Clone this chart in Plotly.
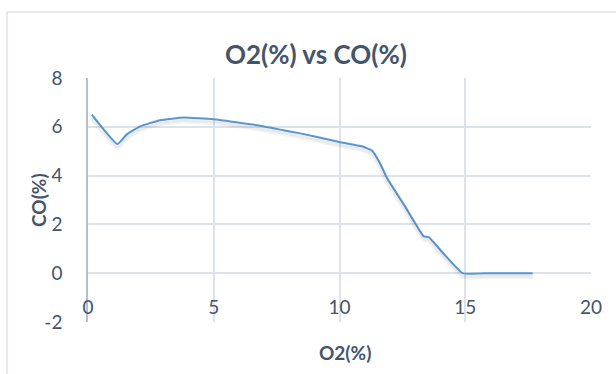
import plotly.graph_objects as go

# O2 / CO readings
o2_pct = [0.15, 1.17, 1.55, 2.07, 2.86, 3.8, 5.0, 6.8, 7.77, 8.4, 10.0, 10.9, 11.3, 11.6, 11.9, 12.6, 13.35, 13.55, 14.1, 14.9, 16.0, 17.68]
co_pct = [6.5, 5.29, 5.7, 6.02, 6.27, 6.38, 6.31, 6.05, 5.86, 5.74, 5.38, 5.2, 5.02, 4.53, 3.88, 2.75, 1.51, 1.48, 0.85, 0.0, 0.0, 0.0]

x_ticks = [0, 5, 10, 15, 20]
y_ticks = [-2, 0, 2, 4, 6, 8]
y_tick_text = ["-2", "0", "2", "4", "6", "8"]

TEXT = "#44546a"
GRID = "#dde3ea"
FONT = "Lato, 'Open Sans', sans-serif"

L, R, T, B = 88, 25, 78, 52
W, H = 616, 374
pw, ph = W - L - R, H - T - B
Y_RANGE = [-2, 8]
shadow_dy = 3 * (Y_RANGE[1] - Y_RANGE[0]) / ph  # soft drop shadow, 3px below

fig = go.Figure()
# drop shadow of the series, on an overlay axis nudged down a few pixels
fig.add_trace(go.Scatter(
    x=o2_pct, y=co_pct, mode="lines", yaxis="y2",
    line=dict(color="rgba(0,0,0,0.045)", width=6, shape="spline", smoothing=0.35),
    hoverinfo="skip", showlegend=False,
))
fig.add_trace(go.Scatter(
    x=o2_pct, y=co_pct, mode="lines", yaxis="y2",
    line=dict(color="rgba(0,0,0,0.04)", width=3, shape="spline", smoothing=0.35),
    hoverinfo="skip", showlegend=False,
))
fig.add_trace(go.Scatter(
    x=o2_pct, y=co_pct, mode="lines",
    line=dict(color="#5b9bd5", width=2, shape="spline", smoothing=0.35),
    hoverinfo="x+y", showlegend=False,
))

fig.update_layout(
    width=W, height=H,
    margin=dict(l=L, r=R, t=T, b=B),
    paper_bgcolor="white", plot_bgcolor="white",
    font=dict(family=FONT, color=TEXT, size=19),
    xaxis=dict(
        range=[0, 20], tickvals=x_ticks, showgrid=True, gridcolor=GRID, gridwidth=1.5,
        zeroline=False, showline=False, anchor="free", position=0.2,
        ticks="", ticklabelstandoff=21, tickfont=dict(size=19, color=TEXT),
    ),
    yaxis=dict(
        range=Y_RANGE, tickvals=y_ticks, ticktext=y_tick_text,
        showgrid=True, gridcolor=GRID, gridwidth=1.5,
        zeroline=False, showline=True, linecolor="#b4c0d2", linewidth=1.5,
        ticks="", ticklabelstandoff=20, tickfont=dict(size=19, color=TEXT),
    ),
    yaxis2=dict(
        range=[Y_RANGE[0] + shadow_dy, Y_RANGE[1] + shadow_dy], overlaying="y",
        visible=False, showgrid=False, zeroline=False,
    ),
    shapes=[
        # outer chart frame
        dict(type="line", xref="paper", yref="paper",
             x0=(7 - L) / pw, x1=(7 - L) / pw, y0=-1, y1=(H - B - 12) / ph,
             line=dict(color="#dfe3e8", width=1.5)),
        dict(type="line", xref="paper", yref="paper",
             x0=(7 - L) / pw, x1=(W + 10 - L) / pw, y0=(H - B - 12) / ph, y1=(H - B - 12) / ph,
             line=dict(color="#dfe3e8", width=1.5)),
    ],
    annotations=[
        dict(text="<b>O2(%) vs CO(%)</b>", xref="paper", yref="paper",
             x=(316 - L) / pw, y=(H - B - 54) / ph, showarrow=False,
             xanchor="center", yanchor="middle", font=dict(size=26, color=TEXT)),
        dict(text="<b>O2(%)</b>", xref="paper", yref="paper",
             x=(345 - L) / pw, y=(H - B - 352) / ph, showarrow=False,
             xanchor="center", yanchor="middle", font=dict(size=19, color=TEXT)),
        dict(text="<b>CO(%)</b>", xref="paper", yref="paper", textangle=-90,
             x=(38 - L) / pw, y=(H - B - 200) / ph, showarrow=False,
             xanchor="center", yanchor="middle", font=dict(size=19, color=TEXT)),
    ],
)

fig.write_html("out.html")
